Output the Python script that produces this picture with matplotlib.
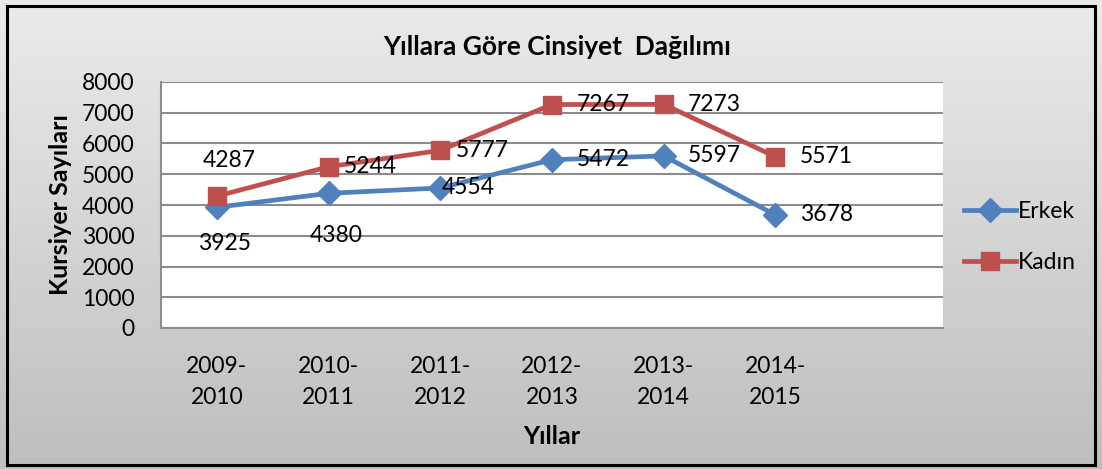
import matplotlib.pyplot as plt
import numpy as np
from matplotlib.patches import Rectangle
from matplotlib.colors import LinearSegmentedColormap

years = ["2009-\n2010", "2010-\n2011", "2011-\n2012", "2012-\n2013", "2013-\n2014", "2014-\n2015"]
erkek = [3925, 4380, 4554, 5472, 5597, 3678]
kadin = [4287, 5244, 5777, 7267, 7273, 5571]

# label placement relative to point (dx px, dy px)
erkek_off = [(8, -36), (8, -42), (28, 0), (51, 0), (51, 0), (51, 0)]
kadin_off = [(12, 36), (42, 0), (42, 0), (51, 0), (51, 0), (51, 0)]

blue = "#4f81bd"
red = "#c0504d"

plt.rcParams['font.family'] = ['Lato', 'DejaVu Sans']

fig = plt.figure(figsize=(11.02, 4.69), dpi=100)

# gradient background
bg = fig.add_axes([0, 0, 1, 1], zorder=-5)
grad = np.linspace(0, 1, 256).reshape(-1, 1)
cm = LinearSegmentedColormap.from_list("g", ["#ebebeb", "#bebebe"])
bg.imshow(grad, aspect="auto", cmap=cm, extent=[0, 1, 0, 1], origin="upper")
bg.axis("off")
fig.patches.append(Rectangle((7 / 1102, 4 / 469), 1088 / 1102, 459 / 469, transform=fig.transFigure,
                             fill=False, edgecolor="black", linewidth=2.2, zorder=10))

ax = fig.add_axes([161 / 1102, 1 - 328 / 469, 782 / 1102, 246 / 469])
ax.set_facecolor("white")
x = np.arange(len(years))
ax.plot(x, erkek, color=blue, lw=3.4, marker="D", ms=12, label="Erkek", zorder=3)
ax.plot(x, kadin, color=red, lw=3.4, marker="s", ms=13, label="Kadın", zorder=4)

for i in range(len(x)):
    ax.annotate(str(erkek[i]), (x[i], erkek[i]), xytext=erkek_off[i], textcoords="offset pixels",
                ha="center", va="center", fontsize=16.5, zorder=5)
    ax.annotate(str(kadin[i]), (x[i], kadin[i]), xytext=kadin_off[i], textcoords="offset pixels",
                ha="center", va="center", fontsize=16.5, zorder=5)

ax.set_xlim(-0.5, 6.5)
ax.set_ylim(0, 8000)
ax.set_yticks(range(0, 8001, 1000))
ax.set_xticks(x)
ax.set_xticklabels(years, fontsize=16.5, linespacing=1.6)
ax.tick_params(axis="y", labelsize=16.5, length=0, pad=19)
ax.tick_params(axis="x", length=0, pad=20)
ax.grid(axis="y", color="#8c8c8c", lw=1.5)
ax.set_axisbelow(True)
for s in ["top", "right"]:
    ax.spines[s].set_visible(False)
ax.spines["left"].set_color("#8c8c8c")
ax.spines["bottom"].set_color("#8c8c8c")
ax.spines["left"].set_linewidth(1.5)
ax.spines["bottom"].set_linewidth(1.5)

ax.set_ylabel("Kursiyer Sayıları", fontsize=18, fontweight="bold", labelpad=7)
ax.set_xlabel("Yıllar", fontsize=18, fontweight="bold", labelpad=12)
fig.text(557 / 1102, 1 - 47 / 469, "Yıllara Göre Cinsiyet  Dağılımı", fontsize=19, fontweight="bold",
         ha="center", va="center")

ax.legend(loc="center left", bbox_to_anchor=(1.0, 0.37), frameon=False, fontsize=16.5,
          handlelength=2.3, handletextpad=0.05, labelspacing=1.3)

fig.savefig("out.png", dpi=100)
